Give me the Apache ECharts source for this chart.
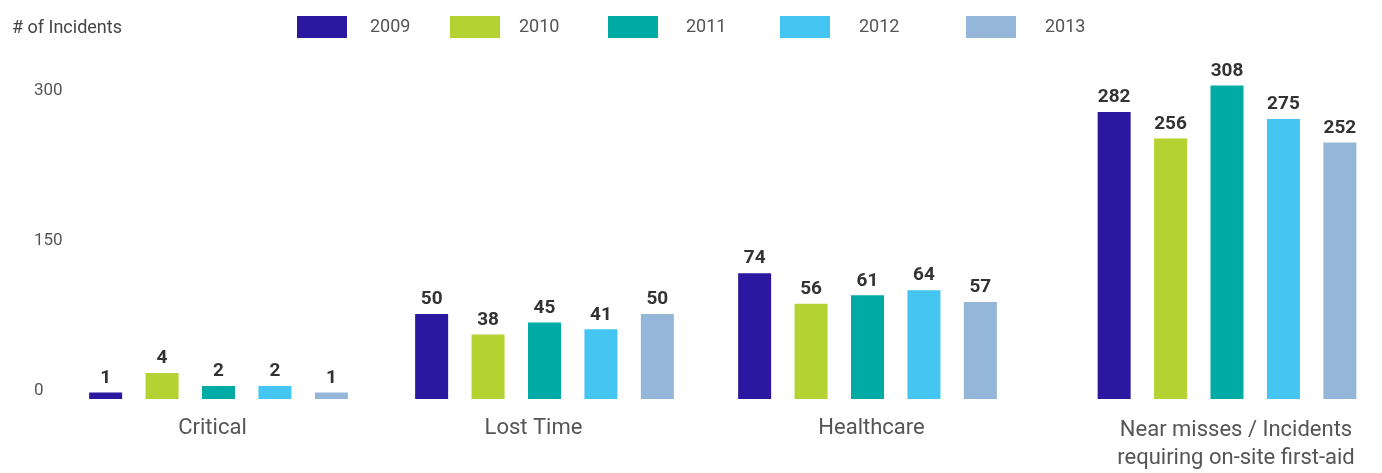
<!DOCTYPE html>
<html>
<head>
<meta charset="utf-8">
<script src="https://cdn.jsdelivr.net/npm/echarts@6/dist/echarts.min.js"></script>
<style>
  html, body { margin: 0; padding: 0; background: #fff; }
  #chart { width: 1382px; height: 473px; }
</style>
</head>
<body>
<div id="chart"></div>
<script>
var categories = ['Critical', 'Lost Time', 'Healthcare', 'Near misses / Incidents\nrequiring on-site first-aid'];
var years = ['2009', '2010', '2011', '2012', '2013'];
var v2009 = [1, 50, 74, 282];
var v2010 = [4, 38, 56, 256];
var v2011 = [2, 45, 61, 308];
var v2012 = [2, 41, 64, 275];
var v2013 = [1, 50, 57, 252];
var yTicks = [0, 150, 300];

var values = [v2009, v2010, v2011, v2012, v2013];
var colors = ['#2b17a0', '#b4d232', '#00aba6', '#45c5f1', '#94b6d8'];
var FONT = 'Roboto, "Liberation Sans", sans-serif';

// one grid per group: the original uses a different scale for each block
var blocks = [
    { left: 56, width: 325, max: 52.2, shift: -6 },
    { left: 383, width: 323, max: 199.4, shift: -11 },
    { left: 706, width: 323, max: 199.4, shift: 4 },
    { left: 1072, width: 310, max: 333, shift: 9 }
];
// legend items are not evenly spaced in the original
var legendLeft = [297, 450, 608, 780, 966];
var legendGap = [18, 14, 23, 24, 24];

var chart = echarts.init(document.getElementById('chart'));

var grids = [], xAxes = [], yAxes = [], series = [];
blocks.forEach(function (b, gi) {
    grids.push({ left: b.left, width: b.width, top: 60, bottom: 74 });
    xAxes.push({
        type: 'category',
        gridIndex: gi,
        data: [categories[gi]],
        axisLine: { show: false },
        axisTick: { show: false },
        axisLabel: {
            margin: gi === 3 ? 17 : 15,
            fontFamily: FONT,
            fontSize: 22,
            lineHeight: 28,
            color: '#555',
            padding: b.shift < 0 ? [0, -2 * b.shift, 0, 0] : [0, 0, 0, 2 * b.shift]
        }
    });
    yAxes.push({
        type: 'value',
        gridIndex: gi,
        min: 0,
        max: b.max,
        show: false
    });
    years.forEach(function (y, si) {
        series.push({
            name: y,
            type: 'bar',
            xAxisIndex: gi,
            yAxisIndex: gi,
            barWidth: 33,
            barGap: '71%',
            itemStyle: { color: colors[si] },
            label: {
                show: true,
                position: 'top',
                distance: 5,
                fontFamily: FONT,
                fontWeight: 'bold',
                fontSize: 19,
                color: '#333'
            },
            data: [values[si][gi]]
        });
    });
});

// tick labels on the left
yAxes.push({
    type: 'value',
    gridIndex: 0,
    position: 'left',
    min: -8,
    max: 331,
    axisLine: { show: false },
    axisTick: { show: false },
    splitLine: { show: false },
    axisLabel: {
        customValues: yTicks,
        align: 'left',
        margin: 22,
        fontFamily: FONT,
        fontSize: 17,
        color: '#555'
    }
});

var legends = years.map(function (y, i) {
    return {
        data: [y],
        left: legendLeft[i],
        top: 16,
        padding: 0,
        itemWidth: 50,
        itemHeight: 22,
        icon: 'rect',
        selectedMode: false,
        textStyle: {
            fontFamily: FONT,
            fontSize: 18,
            color: '#555',
            padding: [4, 0, 0, legendGap[i]]
        }
    };
});

var option = {
    animation: false,
    title: {
        text: '# of Incidents',
        left: 12,
        top: 19,
        padding: 0,
        textStyle: {
            fontFamily: FONT,
            fontWeight: 'normal',
            fontSize: 18,
            color: '#444'
        }
    },
    legend: legends,
    grid: grids,
    xAxis: xAxes,
    yAxis: yAxes,
    series: series
};

chart.setOption(option);
</script>
</body>
</html>
